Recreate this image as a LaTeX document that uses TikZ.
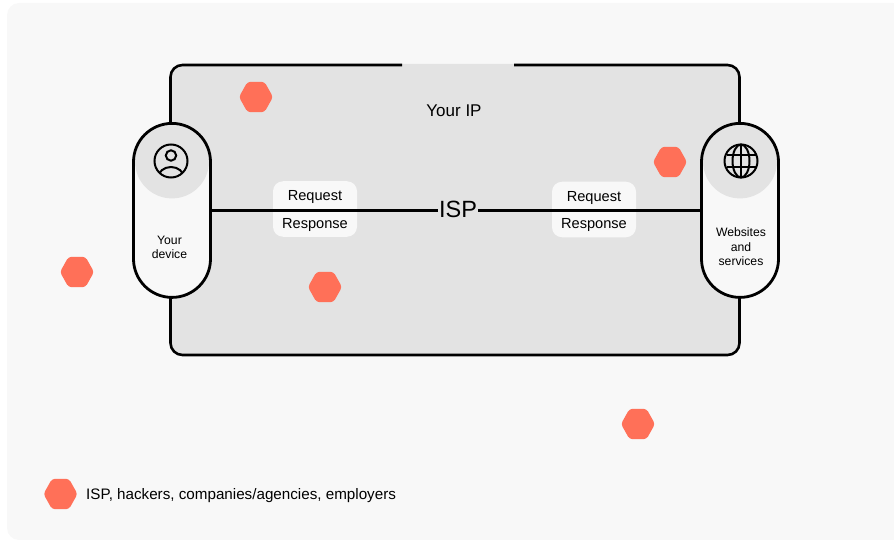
\documentclass[tikz,border=0pt]{standalone}
\usepackage{fontspec}
\setmainfont{Liberation Sans}
\usetikzlibrary{calc,shapes.geometric}
\definecolor{pagegray}{HTML}{F8F8F8}
\definecolor{panelgray}{HTML}{E3E3E3}
\definecolor{hexred}{HTML}{FF7058}
\tikzset{
  hexmark/.style = {regular polygon, regular polygon sides = 6, minimum size = 34, inner sep = 0,
    fill = hexred, rounded corners = 3, yscale = 1.03, transform shape},
  pill/.style = {draw, line width = 2.8, fill = pagegray, rounded corners = 38.5, minimum width = 77,
    minimum height = 174, inner sep = 0,
    path picture = {\fill[panelgray] ($(path picture bounding box.north) + (0, 38)$) circle (37);}},
  msgbox/.style = {fill = pagegray, rounded corners = 10, minimum width = 84, minimum height = 55.5, inner sep = 0},
  lbl/.style = {inner sep = 0, align = center, font = \fontsize{14.6}{17}\selectfont},
  small/.style = {inner sep = 0, align = center, font = \fontsize{12.2}{14.5}\selectfont}
}
\begin{document}
\begin{tikzpicture}[x = 1pt, y = -1pt]
\useasboundingbox (0, 0) rectangle (894, 540);
\fill[pagegray, rounded corners = 12] (7, 3) rectangle (905, 540);
% outer panel
\fill[panelgray, rounded corners = 12] (170.5, 64) rectangle (739.5, 355);
\draw[line width = 2.6, rounded corners = 12] (402, 65) -- (170.5, 65) -- (170.5, 355) -- (739.5, 355) -- (739.5, 65) -- (514, 65);
\node[lbl, font = \fontsize{17}{20}\selectfont] (yourip) at (454, 111) {Your IP};
% boxes
\node[msgbox] (boxl) at (315, 209) {};
\node[msgbox] (boxr) at (594, 209.5) {};
\node[pill] (device) at (172, 210.4) {};
\node[pill] (sites) at (740, 210.4) {};
\node[inner sep = 0, minimum width = 40, font = \fontsize{23.5}{28}\selectfont] (isp) at (458, 209.5) {ISP};
\draw[line width = 3] (device.east) -- (device.east -| isp.west);
\draw[line width = 3] (sites.west -| isp.east) -- (sites.west);
\node[lbl] at (315, 197) (reql) {Request};
\node[lbl] at (315, 224.5) (resl) {Response};
\node[lbl] at (594, 197.5) (reqr) {Request};
\node[lbl] at (594, 225) (resr) {Response};
\node[small] at (169.5, 247.5) (devtxt) {Your\\device};
\node[small] at (741, 247) (sitetxt) {Websites\\and\\services};
% user icon
\draw[line width = 2] (171, 161) circle (16.5);
\draw[line width = 2] (171, 155.5) circle (5.2);
\begin{scope}
\clip (171, 161) circle (16.5);
\draw[line width = 2] (171, 178) ellipse (13 and 11);
\end{scope}
% globe icon
\draw[line width = 2] (741, 161) circle (16.5);
\draw[line width = 2] (741, 161) ellipse (8.5 and 16.5);
\draw[line width = 2] (741, 144.5) -- (741, 177.5);
\draw[line width = 2] (726.5, 155) -- (755.5, 155);
\draw[line width = 2] (726.5, 167) -- (755.5, 167);
% markers
\foreach \x/\y [count = \i] in {256/97, 670/162, 77/272, 325/287, 638/424, 60.5/494}
  \node[hexmark] (hex\i) at (\x, \y) {};
\node[lbl, anchor = west, font = \fontsize{15.2}{18}\selectfont] (legend) at (86, 495.5) {ISP, hackers, companies/agencies, employers};
\end{tikzpicture}
\end{document}
